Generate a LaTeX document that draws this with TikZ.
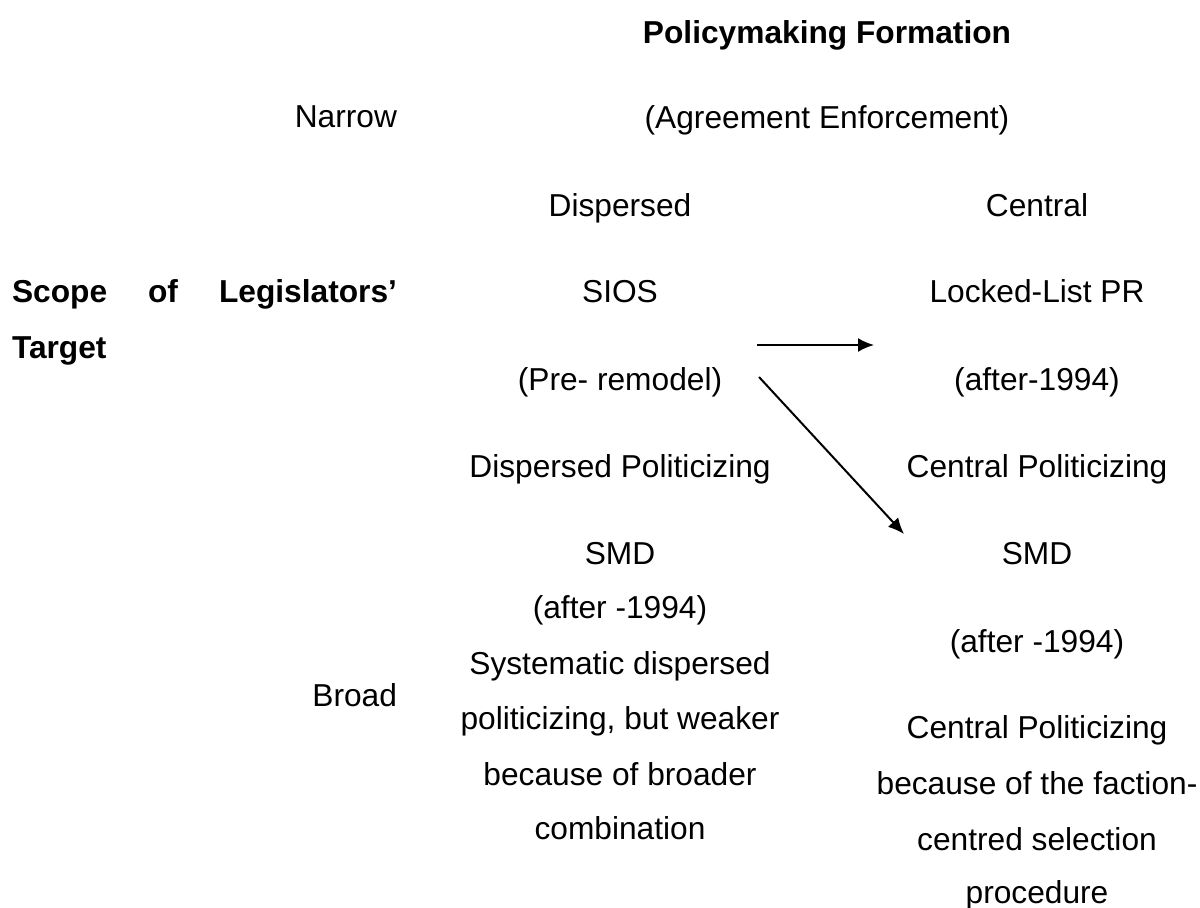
\documentclass[tikz,border=0pt]{standalone}
\usepackage{fontspec}
\setmainfont{Liberation Sans}
\usetikzlibrary{arrows.meta}
\begin{document}
\begin{tikzpicture}[x=0.5pt,y=-0.5pt,
  every node/.style={inner sep=0pt,outer sep=0pt,font=\fontsize{15.85}{19}\selectfont},
  txt/.style={anchor=base},
  rtxt/.style={anchor=base east},
  ltxt/.style={anchor=base west},
  bld/.style={font=\fontsize{15.85}{19}\selectfont\bfseries},
  arr/.style={-{Latex[length=8pt,width=7pt]},line width=1pt,black}]
\useasboundingbox (0,0) rectangle (1200,908);
% header
\node[txt,bld] (title) at (827,44) {Policymaking Formation};
\node[rtxt] (narrow) at (397,128) {Narrow};
\node[txt] (agree) at (827,129) {(Agreement Enforcement)};
\node[txt] (disp) at (620,217) {Dispersed};
\node[txt] (cent) at (1037,217) {Central};
% row label
\node[ltxt,bld] (scope) at (12,303) {\makebox[192.5pt][s]{Scope of Legislators’}};
\node[ltxt,bld] (target) at (12,359) {Target};
% upper cells
\node[txt] (sios) at (620,303) {SIOS};
\node[txt] (pre) at (620,391) {(Pre- remodel)};
\node[txt] (dpol) at (620,478) {Dispersed Politicizing};
\node[txt] (llpr) at (1037,303) {Locked-List PR};
\node[txt] (after1) at (1037,391) {(after-1994)};
\node[txt] (cpol) at (1037,478) {Central Politicizing};
% lower left
\node[rtxt] (broad) at (397,707) {Broad};
\node[txt] (smdl) at (620,565) {SMD};
\node[txt] (afterl) at (620,619) {(after -1994)};
\node[txt] (sys1) at (620,675) {Systematic dispersed};
\node[txt] (sys2) at (620,730) {politicizing, but weaker};
\node[txt] (sys3) at (620,785) {because of broader};
\node[txt] (sys4) at (620,840) {combination};
% lower right
\node[txt] (smdr) at (1037,565) {SMD};
\node[txt] (afterr) at (1037,653) {(after -1994)};
\node[txt] (cp1) at (1037,739) {Central Politicizing};
\node[txt] (cp2) at (1037,795) {because of the faction-};
\node[txt] (cp3) at (1037,850) {centred selection};
\node[txt] (cp4) at (1037,903) {procedure};
% arrows
\coordinate (h1) at (757,345);
\coordinate (h2) at (874,345);
\coordinate (d1) at (759,377);
\coordinate (d2) at (904,534);
\draw[arr] (h1) -- (h2);
\draw[arr] (d1) -- (d2);
\end{tikzpicture}
\end{document}
